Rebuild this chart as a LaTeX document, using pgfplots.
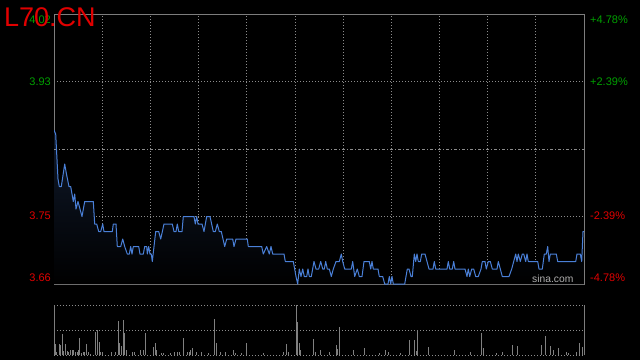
\documentclass[border=0pt]{standalone}
\usepackage{pgfplots}
\pgfplotsset{compat=1.18}
\usepackage{pgfplotstable}
\usepackage{fontspec}
\setmainfont{Liberation Sans}
\definecolor{gridgray}{RGB}{140,140,140}
\definecolor{framegray}{RGB}{125,125,125}
\definecolor{upgreen}{RGB}{0,160,0}
\definecolor{downred}{RGB}{225,0,0}
\definecolor{lineblue}{RGB}{74,128,216}
\definecolor{volgray}{RGB}{128,128,128}
\definecolor{navy}{RGB}{16,26,44}

\pgfplotstableread{
x p
0 3.865
1.7 3.86
4 3.80
5.3 3.79
7.3 3.79
10.7 3.82
12.7 3.805
15 3.79
16.7 3.79
19.3 3.77
20.7 3.78
22 3.76
24 3.77
26 3.76
28 3.75
30.7 3.77
39.3 3.77
40.7 3.74
42.7 3.74
44.7 3.73
46.7 3.73
48.7 3.74
50 3.73
58.3 3.73
59.3 3.74
62 3.74
63.3 3.71
66.7 3.71
68.7 3.72
70.7 3.71
73.3 3.70
75.3 3.70
76.7 3.71
78 3.70
79.3 3.71
84.7 3.71
86 3.70
89.3 3.70
90.7 3.71
92.7 3.71
93.3 3.70
94.7 3.71
96 3.70
97.3 3.70
98.3 3.69
100 3.71
101.7 3.73
104.7 3.73
106.7 3.72
110 3.74
118.3 3.74
120 3.73
122 3.73
123.3 3.74
124.7 3.73
128 3.73
129.3 3.75
140 3.75
141.3 3.74
142.7 3.75
144 3.74
148 3.74
150 3.73
152.7 3.75
156 3.75
159.3 3.73
161.3 3.73
163.3 3.74
165.3 3.73
167.3 3.73
170.7 3.71
172.7 3.72
178.7 3.72
180 3.71
182 3.72
193.3 3.72
194.3 3.71
207.7 3.71
209.3 3.70
212.7 3.71
215.3 3.70
217 3.71
218.7 3.70
230 3.70
231.3 3.69
239.3 3.69
242 3.67
243.7 3.66
245.3 3.68
247 3.67
248.7 3.68
250.3 3.67
252.7 3.67
254 3.68
255.3 3.67
257.3 3.67
260 3.69
262 3.68
264.7 3.68
266.7 3.69
268.7 3.68
270.3 3.68
271.7 3.69
273.3 3.68
275.3 3.68
277.3 3.67
279.3 3.68
282 3.69
285.3 3.69
287.3 3.70
288.7 3.69
290.7 3.68
297.3 3.68
298.7 3.69
300.7 3.67
303.3 3.68
305.3 3.67
308 3.67
310 3.69
315.3 3.69
316.7 3.68
318 3.69
319.3 3.68
324 3.68
325.3 3.67
328.7 3.67
330.7 3.66
334 3.66
335.3 3.67
336.7 3.66
338 3.67
339.3 3.66
350.7 3.66
353.3 3.68
355 3.68
357 3.67
358.3 3.67
360.3 3.70
361.7 3.69
363 3.70
364.3 3.69
366.3 3.69
367.7 3.70
371 3.70
373 3.69
375 3.68
379 3.68
380.3 3.69
381.7 3.68
393 3.68
394.3 3.69
395.7 3.68
398.3 3.68
399.7 3.69
401 3.68
411 3.68
413 3.67
414.3 3.68
415.7 3.67
417.7 3.68
419.7 3.68
421.7 3.67
424.3 3.67
427 3.68
428.3 3.69
431 3.69
432.3 3.68
434.3 3.69
436.3 3.69
438.3 3.68
443 3.68
444.3 3.69
446.3 3.68
448.3 3.67
455 3.67
457.7 3.68
459.7 3.69
461.7 3.70
463 3.69
464.3 3.70
466.3 3.69
468.3 3.70
469.7 3.70
471.7 3.69
473 3.70
474.3 3.69
483.7 3.69
485 3.68
488.3 3.68
490.3 3.70
492.3 3.70
493.7 3.71
495 3.69
496.3 3.70
502.3 3.70
503.7 3.69
521.7 3.69
523 3.70
526.3 3.70
527.7 3.69
529 3.73
530 3.73
}\price

\pgfplotstableread{
x v
1 10.7
2.7 3
5.3 10.7
6.7 9.7
8.3 20.7
9.3 4
11.3 10.7
13.3 3.7
14.7 2.7
16.3 4.7
18 4.7
19.3 4.7
21.7 2.7
23.3 2.7
24.7 4.7
25.3 17.3
27.3 2
29.3 2.7
30.7 2.7
32.3 10.7
34 2.7
36 1.3
41.3 23
43.3 25.3
45.3 13
46.7 2.7
48.7 2.7
57 2.7
61.3 2.7
64.3 33.7
65.3 12
67.3 8.7
69.3 34.7
70.3 22
72.3 4.7
78.7 3.3
80 2.7
86.3 5.3
89.3 5.3
91.3 22
99.3 8
101.3 12
102 4.7
107.3 2
109.3 2
116.7 2
120.3 3.3
123.7 3.3
125.3 2.7
129.3 16.7
133.3 2.7
135 2.7
136.7 4.7
138.3 6.7
142.7 2.7
147.3 2.7
154.7 2
160.3 35.7
162.3 12
166.3 2.7
171.7 2.7
179.3 4.7
181.3 2
187.3 2
192.3 12
209.3 2
229.3 2.7
232.3 10.7
234.3 2.7
242.3 50
243.3 32.7
245.3 12
246.3 4.7
259.3 16
261.3 2.7
266 5.3
275.3 2.7
282.3 9.7
283.3 6
285.3 27.7
299.3 4.7
310.3 7.3
325.3 2
331.3 4.7
334.3 3.3
346.3 2
355.3 14.7
360.3 14.7
362.3 4
363.3 24.7
374.3 7.7
400.3 5.3
416.3 2.7
427.3 22
429.3 6.7
442.3 2
448.3 2.7
458.3 9.7
463.3 8.7
487.3 9.7
491.3 18.7
496.3 8.7
499.3 5.3
504.3 6.7
512.3 2.7
514.3 2
522.7 2.7
525.3 12
528.3 7.7
530 42
}\volume

\begin{document}
\begin{tikzpicture}[x=1pt,y=1pt]
\fill[black] (0,0) rectangle (640,360);
\begin{axis}[
  at={(54pt,76pt)}, anchor=south west, scale only axis,
  width=530pt, height=270pt,
  xmin=0, xmax=530, ymin=3.66, ymax=4.02,
  xtick={48.18,96.36,144.55,192.73,240.91,289.09,337.27,385.45,433.64,481.82},
  ytick={3.75,3.93},
  xticklabels={}, yticklabels={},
  major tick length=0pt,
  xmajorgrids, ymajorgrids,
  grid style={draw=gridgray, line width=0.8pt, dash pattern=on 1pt off 2pt},
  axis line style={draw=framegray, line width=0.8pt},
]
\addplot[draw=none, top color=navy, bottom color=black] table[x=x,y=p]{\price} -- (axis cs:530,3.66) -- (axis cs:0,3.66) -- cycle;
\draw[gridgray, line width=0.8pt, dash pattern=on 3pt off 2pt on 1pt off 2pt] (axis cs:0,3.84) -- (axis cs:530,3.84);
\addplot[lineblue, line width=1pt, line join=round] table[x=x,y=p]{\price};
\end{axis}

\begin{axis}[
  at={(54pt,5pt)}, anchor=south west, scale only axis,
  width=530pt, height=50pt,
  xmin=0, xmax=530, ymin=0, ymax=50,
  ticks=none,
  hide axis,
  clip=false,
]
\draw[gridgray, line width=0.8pt, dash pattern=on 1pt off 2pt] (axis cs:0,0) -- (axis cs:530,0);
\draw[gridgray, line width=0.8pt, dash pattern=on 1pt off 2pt] (axis cs:0,25) -- (axis cs:530,25);
\draw[gridgray, line width=0.8pt, dash pattern=on 1pt off 2pt] (axis cs:0,50) -- (axis cs:530,50);
\addplot[ycomb, volgray, line width=0.9pt, mark=none] table[x=x,y=v]{\volume};
\draw[framegray, line width=0.8pt] (axis cs:0,0) -- (axis cs:0,50);
\draw[framegray, line width=0.8pt] (axis cs:530,0) -- (axis cs:530,50);
\end{axis}

\begin{scope}[every node/.style={font=\fontsize{11}{11}\selectfont, inner sep=0pt}]
\node[anchor=east, text=upgreen] at (51,340) {4.02};
\node[anchor=east, text=upgreen] at (51,278) {3.93};
\node[anchor=east, text=downred] at (51,144) {3.75};
\node[anchor=east, text=downred] at (51,82) {3.66};
\node[anchor=west, text=upgreen] at (590,340) {+4.78\%};
\node[anchor=west, text=upgreen] at (590,278) {+2.39\%};
\node[anchor=west, text=downred] at (590,144) {-2.39\%};
\node[anchor=west, text=downred] at (590,82) {-4.78\%};
\end{scope}
\node[anchor=base west, inner sep=0pt, text=downred, font=\fontsize{27}{27}\selectfont] at (4,334) {L70.CN};
\node[anchor=base west, inner sep=0pt, text={rgb,255:red,175;green,175;blue,175}, font=\fontsize{10.3}{10.3}\selectfont] at (532,78) {sina.com};
\end{tikzpicture}
\end{document}
